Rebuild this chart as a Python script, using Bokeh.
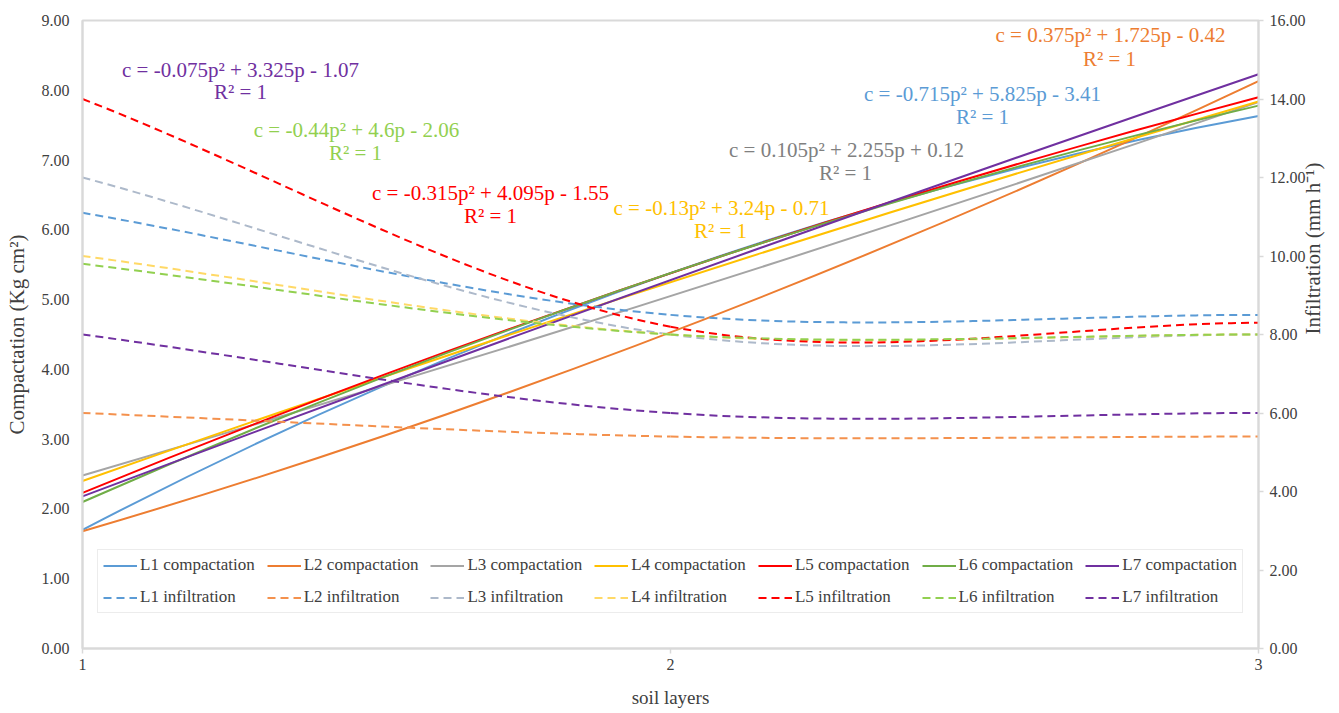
import math
from bokeh.plotting import figure
from bokeh.models import (Range1d, LinearAxis, FixedTicker, PrintfTickFormatter,
                          Label, Legend, LegendItem, ColumnDataSource)
from bokeh.embed import file_html
from bokeh.resources import INLINE

# ---------------- data ----------------
layers = [1, 2, 3]
x_ticks = [1, 2, 3]
left_ticks = [0, 1, 2, 3, 4, 5, 6, 7, 8, 9]
right_ticks = [0, 2, 4, 6, 8, 10, 12, 14, 16]

names = ["L1", "L2", "L3", "L4", "L5", "L6", "L7"]

comp_L1 = [1.70, 5.38, 7.63]
comp_L2 = [1.68, 4.53, 8.13]
comp_L3 = [2.48, 5.05, 7.83]
comp_L4 = [2.40, 5.25, 7.84]
comp_L5 = [2.23, 5.38, 7.90]
comp_L6 = [2.10, 5.38, 7.78]
comp_L7 = [2.18, 5.28, 8.23]

infil_L1 = [11.1, 8.5, 8.5]
infil_L2 = [6.0, 5.4, 5.4]
infil_L3 = [12.0, 8.0, 8.0]
infil_L4 = [10.0, 8.0, 8.0]
infil_L5 = [14.0, 8.2, 8.3]
infil_L6 = [9.8, 8.0, 8.0]
infil_L7 = [8.0, 6.0, 6.0]

equations = [
    "c = -0.715p² + 5.825p - 3.41",
    "c = 0.375p² + 1.725p - 0.42",
    "c = 0.105p² + 2.255p + 0.12",
    "c = -0.13p² + 3.24p - 0.71",
    "c = -0.315p² + 4.095p - 1.55",
    "c = -0.44p² + 4.6p - 2.06",
    "c = -0.075p² + 3.325p - 1.07",
]
r2_text = "R² = 1"

x_title = "soil layers"
left_title = "Compactation (Kg cm²)"
right_title = "Infiltration (mm h⁻¹)"

comp_series = [comp_L1, comp_L2, comp_L3, comp_L4, comp_L5, comp_L6, comp_L7]
infil_series = [infil_L1, infil_L2, infil_L3, infil_L4, infil_L5, infil_L6, infil_L7]

# ---------------- styles ----------------
comp_colors = ["#5B9BD5", "#ED7D31", "#A5A5A5", "#FFC000", "#FF0000", "#70AD47", "#7030A0"]
infil_colors = ["#5B9BD5", "#F4914D", "#ADB9CA", "#FFD966", "#FF0000", "#92D050", "#7030A0"]
eq_colors = ["#5B9BD5", "#ED7D31", "#808080", "#FFC000", "#FF0000", "#92D050", "#7030A0"]
# label centres in page pixels (equation line, R² line)
eq_pos = [(982, 94), (1110, 35), (846, 150), (721, 208), (490, 193), (356, 130), (240, 70)]
r2_pos = [(982, 117), (1109, 59), (845, 173), (720, 231), (490, 216), (355, 153), (240, 92)]

FONT = "Liberation Serif"
TXT = "#404040"
BORDER = "#D9D9D9"

W, H = 1339, 713
p = figure(width=W, height=H, x_range=Range1d(1, 3), y_range=Range1d(0, 9),
           output_backend="svg", toolbar_location=None,
           min_border_left=82, min_border_right=81, min_border_top=20, min_border_bottom=65)
p.extra_y_ranges = {"inf": Range1d(0, 16)}
p.xgrid.grid_line_color = None
p.ygrid.grid_line_color = None
p.outline_line_color = BORDER
p.outline_line_width = 2
p.background_fill_color = "white"
p.border_fill_color = "white"

xa = p.xaxis[0]
xa.ticker = FixedTicker(ticks=x_ticks)
xa.axis_label = x_title
ya = p.yaxis[0]
ya.ticker = FixedTicker(ticks=left_ticks)
ya.formatter = PrintfTickFormatter(format="%.2f")
ya.axis_label = left_title
yr = LinearAxis(y_range_name="inf", ticker=FixedTicker(ticks=right_ticks),
                formatter=PrintfTickFormatter(format="%.2f"), axis_label=right_title)
p.add_layout(yr, "right")

for ax in (xa, ya, yr):
    ax.axis_line_color = BORDER
    ax.axis_line_width = 2
    ax.major_tick_line_color = BORDER
    ax.major_tick_line_width = 1.5
    ax.major_tick_in = 0
    ax.minor_tick_line_color = None
    ax.major_label_text_font = FONT
    ax.major_label_text_font_size = "16px"
    ax.major_label_text_color = TXT
    ax.axis_label_text_font = FONT
    ax.axis_label_text_font_style = "normal"
    ax.axis_label_text_color = TXT

xa.axis_label_text_font_size = "19px"
ya.axis_label_text_font_size = "21px"
yr.axis_label_text_font_size = "21px"

xa.major_tick_out = 5
xa.major_label_standoff = 5
xa.axis_label_standoff = 14
ya.major_tick_out = 0
ya.major_label_standoff = 13
ya.axis_label_standoff = 10
yr.major_tick_out = 5
yr.major_label_standoff = 6
yr.axis_label_standoff = 4
yr.axis_label_orientation = math.pi / 2

# ---------------- compaction (quadratic trend curves through the 3 values) ----------------
comp_renderers = []
for vals, col in zip(comp_series, comp_colors):
    src = ColumnDataSource(dict(
        x0=[layers[0]], y0=[vals[0]], x1=[layers[2]], y1=[vals[2]],
        cx=[(layers[0] + layers[2]) / 2], cy=[2 * vals[1] - (vals[0] + vals[2]) / 2]))
    r = p.quadratic(x0="x0", y0="y0", x1="x1", y1="y1", cx="cx", cy="cy",
                    source=src, line_color=col, line_width=2)
    comp_renderers.append(r)

# ---------------- infiltration (smoothed line through the 3 values) ----------------
def smooth_segments(xs, ys):
    ex = [2 * xs[0] - xs[1]] + list(xs) + [2 * xs[-1] - xs[-2]]
    ey = [2 * ys[0] - ys[1]] + list(ys) + [2 * ys[-1] - ys[-2]]
    d = dict(x0=[], y0=[], x1=[], y1=[], cx0=[], cy0=[], cx1=[], cy1=[])
    for i in range(1, len(xs)):
        d["x0"].append(ex[i]); d["y0"].append(ey[i])
        d["x1"].append(ex[i + 1]); d["y1"].append(ey[i + 1])
        d["cx0"].append(ex[i] + (ex[i + 1] - ex[i - 1]) / 6)
        d["cy0"].append(ey[i] + (ey[i + 1] - ey[i - 1]) / 6)
        d["cx1"].append(ex[i + 1] - (ex[i + 2] - ex[i]) / 6)
        d["cy1"].append(ey[i + 1] - (ey[i + 2] - ey[i]) / 6)
    return d

infil_renderers = []
for vals, col in zip(infil_series, infil_colors):
    src = ColumnDataSource(smooth_segments(layers, vals))
    r = p.bezier(x0="x0", y0="y0", x1="x1", y1="y1", cx0="cx0", cy0="cy0",
                 cx1="cx1", cy1="cy1", source=src, line_color=col, line_width=2,
                 line_dash="8 5", y_range_name="inf")
    infil_renderers.append(r)

# ---------------- equation labels ----------------
def to_data(px, py):
    return 1 + (px - 82) / 588.0, (648.3 - py) / 69.76

for eq, col, ep, rp in zip(equations, eq_colors, eq_pos, r2_pos):
    for txt, pos in ((eq, ep), (r2_text, rp)):
        x, y = to_data(*pos)
        p.add_layout(Label(x=x, y=y, text=txt, text_align="center", text_baseline="middle",
                           text_font=FONT, text_font_size="21px", text_font_style="normal",
                           text_color=col))

# ---------------- legend ----------------
items = [LegendItem(label=f"{n} compactation", renderers=[r]) for n, r in zip(names, comp_renderers)]
items += [LegendItem(label=f"{n} infiltration", renderers=[r]) for n, r in zip(names, infil_renderers)]
legend = Legend(items=items, location=(15, 35), orientation="horizontal", nrows=2,
                glyph_width=34, glyph_height=19, label_height=19, label_standoff=3,
                spacing=12, padding=5, margin=0,
                border_line_color=BORDER, border_line_width=1.5,
                background_fill_color="white", background_fill_alpha=1,
                label_text_font=FONT, label_text_font_size="17px", label_text_color=TXT)
p.add_layout(legend, "center")

open("out.html", "w").write(file_html(p, INLINE))
